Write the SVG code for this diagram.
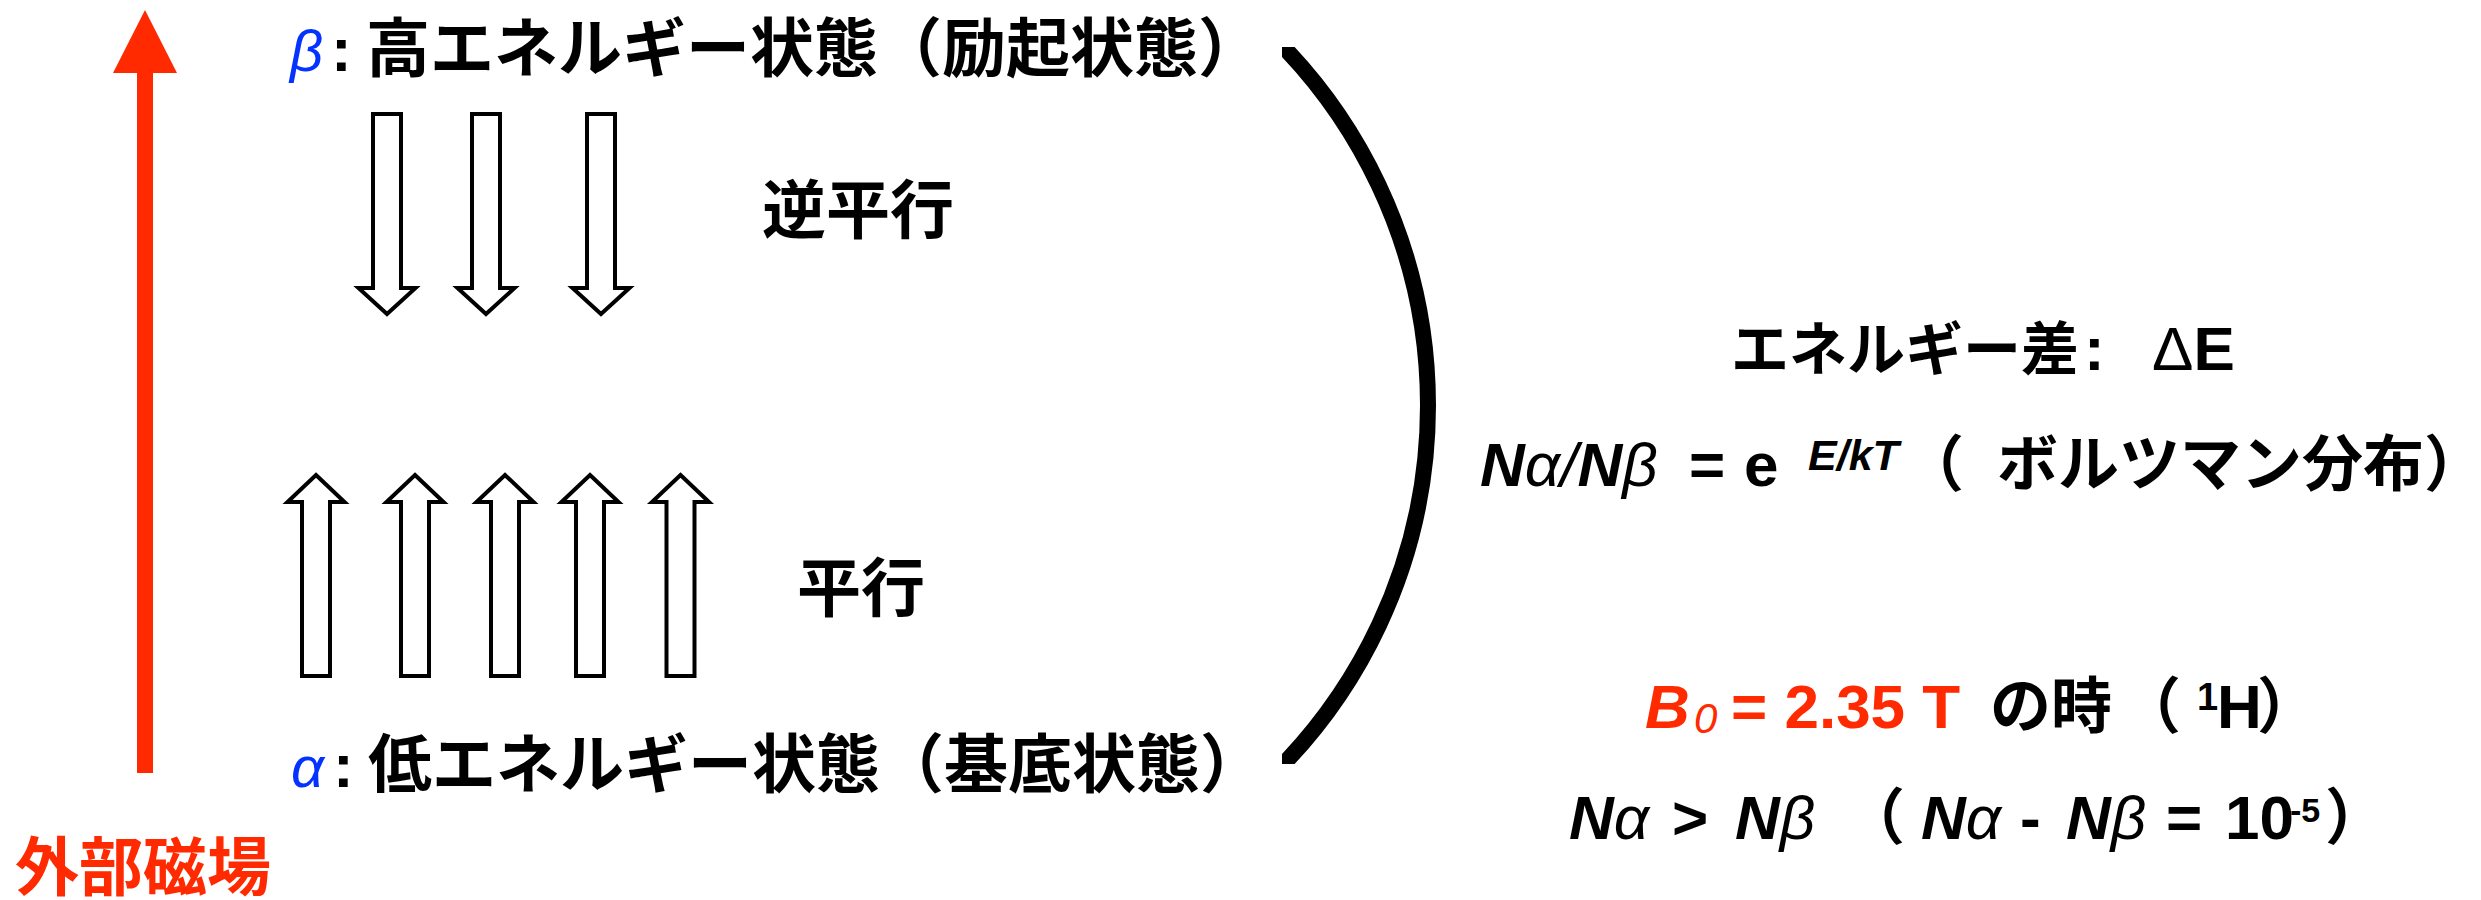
<svg xmlns="http://www.w3.org/2000/svg" xmlns:xlink="http://www.w3.org/1999/xlink" width="2481" height="900" viewBox="0 0 2481 900">
<style>
.cjk{font-family:"Noto Sans CJK JP","Noto Sans CJK SC",sans-serif;font-weight:bold;font-size:64px;fill:#000}
.cjkr{font-family:"Noto Sans CJK JP","Noto Sans CJK SC",sans-serif;font-weight:bold;font-size:61px;fill:#000}
.lat{font-family:"Liberation Sans",Arial,sans-serif;font-weight:bold;font-size:62px;fill:#000}
.bi{font-family:"Liberation Sans",Arial,sans-serif;font-weight:bold;font-style:italic}
.gr{font-family:"Liberation Sans",Arial,sans-serif;font-weight:normal;font-style:italic}
.red{fill:#FF2A00}
.blue{fill:#0433FF}
.spin{fill:#fff;stroke:#000;stroke-width:4;stroke-linejoin:miter}
</style>
<defs>
<path id="up" d="M0,0 L28.5,27 L14,27 L14,201 L-14,201 L-14,27 L-28.5,27 Z"/>
<path id="down" d="M0,0 L28.5,-26 L14,-26 L14,-200 L-14,-200 L-14,-26 L-28.5,-26 Z"/>
<clipPath id="bclip"><rect x="1282" y="47" width="200" height="717"/></clipPath>
</defs>

<g id="field-arrow">
<rect x="137" y="72" width="16" height="701" class="red"/>
<polygon points="113,73 177,73 145,10" class="red"/>
<text x="15" y="890" class="cjk red">外部磁場</text>
</g>

<g id="beta-state">
<text x="290" y="71" class="gr blue" style="font-size:58px">β</text>
<text x="331" y="71" class="lat">:</text>
<text x="366" y="71" class="cjk">高エネルギー状態（励起状態）</text>
</g>

<g id="antiparallel">
<use xlink:href="#down" x="387" y="314" class="spin"/>
<use xlink:href="#down" x="486" y="314" class="spin"/>
<use xlink:href="#down" x="601" y="314" class="spin"/>
<text x="762" y="233" class="cjk">逆平行</text>
</g>

<g id="parallel">
<use xlink:href="#up" x="316" y="475" class="spin"/>
<use xlink:href="#up" x="415" y="475" class="spin"/>
<use xlink:href="#up" x="505" y="475" class="spin"/>
<use xlink:href="#up" x="590" y="475" class="spin"/>
<use xlink:href="#up" x="680.5" y="475" class="spin"/>
<text x="797" y="611" class="cjk">平行</text>
</g>

<g id="alpha-state">
<text x="291" y="787" class="gr blue" style="font-size:58px">α</text>
<text x="333" y="787" class="lat">:</text>
<text x="368" y="787" class="cjk">低エネルギー状態（基底状態）</text>
</g>

<g id="connectors">
<path d="M1255.5,20 A517,517 0 0 1 1256.6,790" fill="none" stroke="#000" stroke-width="16" clip-path="url(#bclip)"/>
</g>

<g id="energy-diff">
<text x="1731" y="370" class="cjkr" style="font-size:58px">エネルギー差</text>
<text x="2084" y="370" class="lat">:</text>
<text x="2152" y="370" class="lat" style="font-weight:normal">Δ<tspan style="font-weight:bold">E</tspan></text>
</g>

<g id="boltzmann">
<text y="486" class="lat"><tspan x="1480" class="bi">N</tspan><tspan class="gr">α/</tspan><tspan class="bi">N</tspan><tspan class="gr">β</tspan></text>
<text x="1689" y="486" class="lat">=</text>
<text x="1744" y="486" class="lat">e</text>
<text x="1808" y="470" class="lat bi" style="font-size:43px">E/kT</text>
<text x="1903" y="486" class="cjkr">（</text>
<text x="1997" y="486" class="cjkr">ボルツマン分布）</text>
</g>

<g id="b0-line">
<text x="1645" y="728" class="lat bi red">B</text>
<text x="1694" y="733" class="lat gr red" style="font-size:42px">0</text>
<text x="1731" y="728" class="lat red">= 2.35 T</text>
<text x="1990" y="728" class="cjkr">の時</text>
<text x="2120" y="728" class="cjkr">（</text>
<text x="2197" y="710" class="lat" style="font-size:38px">1</text>
<text x="2217" y="728" class="lat">H</text>
<text x="2257" y="728" class="cjkr">）</text>
</g>

<g id="population">
<text y="839" class="lat"><tspan x="1569" class="bi">N</tspan><tspan class="gr">α</tspan></text>
<text x="1672" y="839" class="lat">&gt;</text>
<text y="839" class="lat"><tspan x="1735" class="bi">N</tspan><tspan class="gr">β</tspan></text>
<text x="1844" y="839" class="cjkr">（</text>
<text y="839" class="lat"><tspan x="1921" class="bi">N</tspan><tspan class="gr">α</tspan></text>
<text x="2020" y="839" class="lat">-</text>
<text y="839" class="lat"><tspan x="2066" class="bi">N</tspan><tspan class="gr">β</tspan></text>
<text x="2166" y="839" class="lat">=</text>
<text x="2225" y="839" class="lat">10</text>
<text x="2290" y="822" class="lat" style="font-size:34px">-5</text>
<text x="2325" y="839" class="cjkr">）</text>
</g>
</svg>
